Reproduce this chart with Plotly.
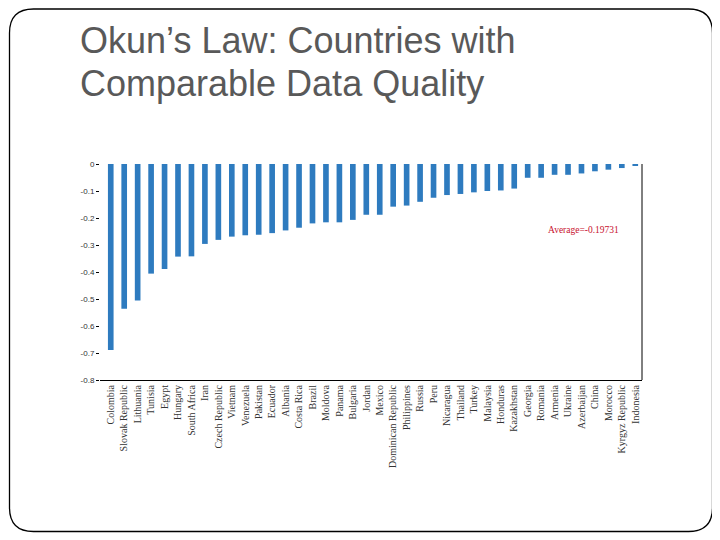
import plotly.graph_objects as go

countries = ["Colombia", "Slovak Republic", "Lithuania", "Tunisia", "Egypt", "Hungary",
             "South Africa", "Iran", "Czech Republic", "Vietnam", "Venezuela", "Pakistan",
             "Ecuador", "Albania", "Costa Rica", "Brazil", "Moldova", "Panama", "Bulgaria",
             "Jordan", "Mexico", "Dominican Republic", "Philippines", "Russia", "Peru",
             "Nicaragua", "Thailand", "Turkey", "Malaysia", "Honduras", "Kazakhstan",
             "Georgia", "Romania", "Armenia", "Ukraine", "Azerbaijan", "China", "Morocco",
             "Kyrgyz Republic", "Indonesia"]
okun_coef = [-0.689, -0.536, -0.506, -0.406, -0.389, -0.343, -0.342, -0.296, -0.281,
             -0.269, -0.264, -0.262, -0.256, -0.246, -0.236, -0.220, -0.216, -0.216,
             -0.207, -0.188, -0.188, -0.158, -0.154, -0.140, -0.125, -0.115, -0.111,
             -0.105, -0.100, -0.098, -0.091, -0.051, -0.051, -0.040, -0.040, -0.035,
             -0.027, -0.021, -0.015, -0.006]
y_ticks = [0, -0.1, -0.2, -0.3, -0.4, -0.5, -0.6, -0.7, -0.8]
y_tick_labels = ["0", "-0.1", "-0.2", "-0.3", "-0.4", "-0.5", "-0.6", "-0.7", "-0.8"]
average_label = "Average=-0.19731"
title_lines = ["Okun\u2019s Law: Countries with", "Comparable Data Quality"]

# page body has an 8px default margin; compensate so the figure fills the window
OFF = 8
W, H = 720 - OFF, 540 - OFF
px = lambda v: (v - OFF) / W
py = lambda v: 1 - (v - OFF) / H

fig = go.Figure()
fig.add_trace(go.Bar(x=countries, y=okun_coef, marker=dict(color="#2E7BBF", line=dict(width=0)),
                     showlegend=False))

x_range = [-0.8, len(countries) - 0.5]
fig.update_layout(
    width=W, height=H,
    margin=dict(l=0, r=0, t=0, b=0),
    paper_bgcolor="white", plot_bgcolor="white",
    bargap=0.58,
    xaxis=dict(domain=[px(100), px(642)], range=x_range, type="category",
               tickangle=-90, showline=True, linecolor="black", linewidth=1,
               ticks="", showgrid=False, automargin=False,
               tickfont=dict(family="Liberation Serif", size=10, color="#333333")),
    xaxis2=dict(overlaying="x", anchor="y", side="top", range=x_range, type="linear",
                tickvals=[i + 0.5 for i in range(len(countries) - 1)],
                ticks="inside", ticklen=4, tickcolor="black", tickwidth=1,
                showticklabels=False, showline=True, linecolor="black", linewidth=1,
                showgrid=False, zeroline=False, automargin=False),
    yaxis=dict(domain=[py(380), py(164)], range=[-0.8, 0], tickvals=y_ticks,
               ticktext=y_tick_labels, ticks="outside", ticklen=3, tickcolor="black",
               showline=False, showgrid=False, zeroline=False, automargin=False,
               tickfont=dict(family="Liberation Sans", size=8, color="#333333")),
)

# right frame line of plot area
fig.add_shape(type="line", xref="paper", yref="paper", x0=px(642), x1=px(642),
              y0=py(380), y1=py(164), line=dict(color="black", width=1))

# slide rounded border (kept inside the drawable page area)
x0, x1, y0, y1, r = 9.5, 712.5, 9, 531.5, 24
path = (f"M {px(x0 + r)} {py(y0)} L {px(x1 - r)} {py(y0)} "
        f"Q {px(x1)} {py(y0)} {px(x1)} {py(y0 + r)} L {px(x1)} {py(y1 - r)} "
        f"Q {px(x1)} {py(y1)} {px(x1 - r)} {py(y1)} L {px(x0 + r)} {py(y1)} "
        f"Q {px(x0)} {py(y1)} {px(x0)} {py(y1 - r)} L {px(x0)} {py(y0 + r)} "
        f"Q {px(x0)} {py(y0)} {px(x0 + r)} {py(y0)} Z")
fig.add_shape(type="path", xref="paper", yref="paper", path=path,
              line=dict(color="black", width=1.3))

# title
for line, yc in zip(title_lines, [41, 84]):
    fig.add_annotation(text=line, xref="paper", yref="paper", x=px(78), y=py(yc),
                       xanchor="left", yanchor="middle", showarrow=False,
                       font=dict(family="Liberation Sans", size=36, color="#595959"))

# average annotation
fig.add_annotation(text=average_label, xref="paper", yref="paper", x=px(583), y=py(230),
                   xanchor="center", yanchor="middle", showarrow=False,
                   font=dict(family="Liberation Serif", size=9.5, color="#C8102E"))

fig.write_html("out.html")
